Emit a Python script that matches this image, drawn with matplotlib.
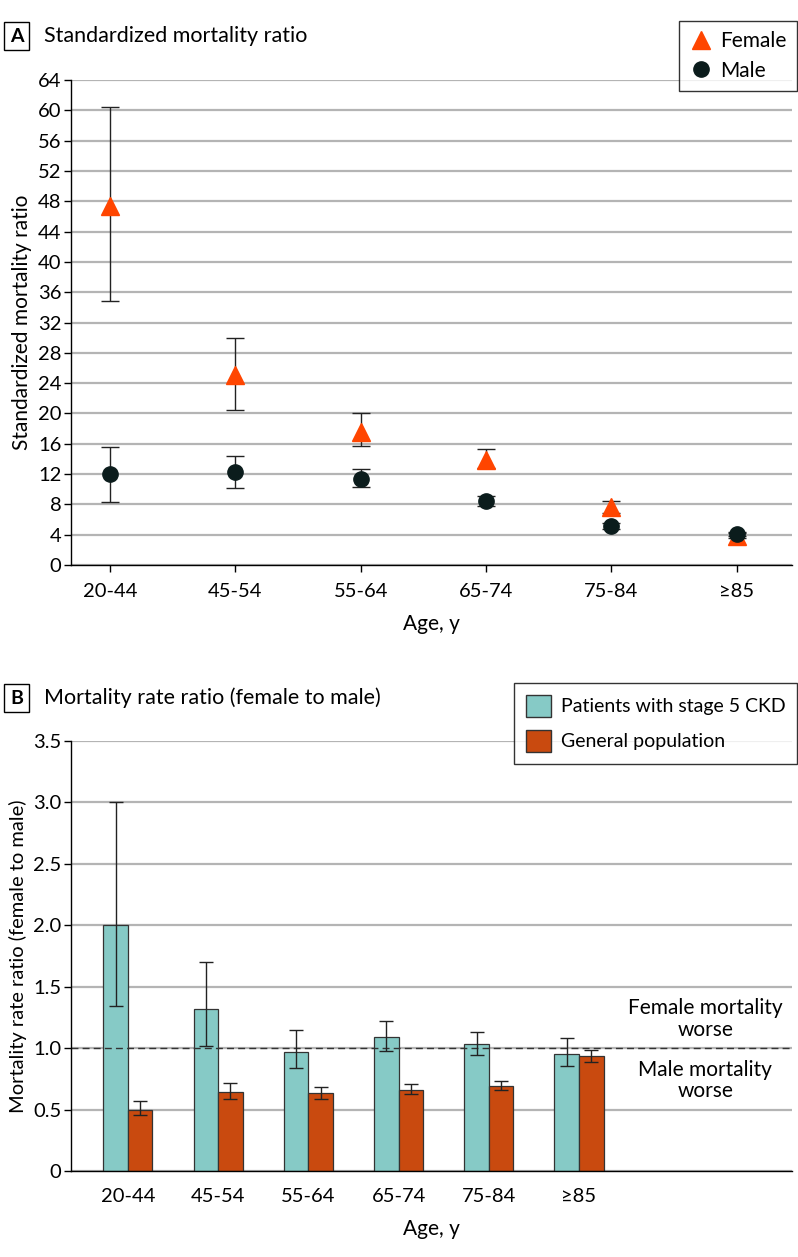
import matplotlib
matplotlib.use("Agg")
import matplotlib.pyplot as plt
from matplotlib.patches import Patch
from matplotlib.lines import Line2D
import numpy as np

plt.rcParams['font.family'] = ['Lato', 'DejaVu Sans']

ages = ["20-44", "45-54", "55-64", "65-74", "75-84", "≥85"]

# Panel A: standardized mortality ratio
female_smr = [47.4, 25.1, 17.6, 13.9, 7.7, 3.8]
female_lo = [34.8, 20.4, 15.7, 12.8, 6.9, 3.5]
female_hi = [60.4, 30.0, 20.0, 15.3, 8.5, 4.2]
male_smr = [12.0, 12.3, 11.4, 8.5, 5.2, 4.1]
male_lo = [8.3, 10.2, 10.3, 7.8, 4.8, 3.8]
male_hi = [15.6, 14.4, 12.7, 9.1, 5.6, 4.4]

# Panel B: mortality rate ratio (female to male)
ckd_rr = [2.00, 1.32, 0.97, 1.09, 1.03, 0.955]
ckd_lo = [1.34, 1.02, 0.84, 0.98, 0.94, 0.855]
ckd_hi = [3.00, 1.70, 1.145, 1.22, 1.13, 1.085]
gen_rr = [0.50, 0.643, 0.632, 0.659, 0.692, 0.933]
gen_lo = [0.453, 0.583, 0.583, 0.627, 0.662, 0.887]
gen_hi = [0.567, 0.716, 0.681, 0.71, 0.73, 0.987]

FEMALE_C = "#ff4500"
MALE_C = "#0b1c1c"
CKD_C = "#86cac6"
GEN_C = "#c94a0f"
GRID_C = "#b4b4b4"
FS = 14.5
LFS = 15
TFS = 15.5

W, H = 798, 1257
fig = plt.figure(figsize=(W / 100, H / 100), dpi=100)

def style_axes(ax):
    for s in ["top", "right"]:
        ax.spines[s].set_visible(False)
    for s in ["left", "bottom"]:
        ax.spines[s].set_linewidth(1.0)
        ax.spines[s].set_color("black")
    ax.tick_params(axis="both", labelsize=FS, length=5, width=1, direction="out", color="black")
    ax.tick_params(axis="y", pad=2)
    ax.yaxis.grid(True, color=GRID_C, linewidth=1.6)
    ax.set_axisbelow(True)

def panel_label(letter, title, ytop):
    y = 1 - ytop / H
    fig.text(16.5 / W, y, letter, fontsize=14, fontweight="bold", ha="center", va="center",
             bbox=dict(boxstyle="square,pad=0.3", fc="white", ec="black", lw=1))
    fig.text(44 / W, y, title, fontsize=TFS, ha="left", va="center")

# ---- Panel A ----
axA = fig.add_axes([71 / W, 1 - 565 / H, (792 - 71) / W, (565 - 80) / H])
x = np.arange(len(ages))
fe = np.array([np.array(female_smr) - np.array(female_lo), np.array(female_hi) - np.array(female_smr)])
me = np.array([np.array(male_smr) - np.array(male_lo), np.array(male_hi) - np.array(male_smr)])
axA.errorbar(x, female_smr, yerr=fe, fmt="none", ecolor="#222222", elinewidth=1, capsize=6.5, capthick=1, zorder=3)
axA.errorbar(x, male_smr, yerr=me, fmt="none", ecolor="#222222", elinewidth=1, capsize=6.5, capthick=1, zorder=3)
axA.plot(x, female_smr, linestyle="none", marker="^", markersize=12.5, color=FEMALE_C, zorder=4)
axA.plot(x, male_smr, linestyle="none", marker="o", markersize=11, color=MALE_C, zorder=5)
axA.set_xlim(-0.31, 5.44)
axA.set_ylim(0, 64)
axA.set_yticks(np.arange(0, 65, 4))
axA.set_xticks(x)
axA.set_xticklabels(ages)
style_axes(axA)
axA.tick_params(axis="x", pad=8)
axA.set_ylabel("Standardized mortality ratio", fontsize=LFS, labelpad=4)
axA.set_xlabel("Age, y", fontsize=LFS, labelpad=10)
panel_label("A", "Standardized mortality ratio", 36)

legA = fig.legend(handles=[Line2D([], [], linestyle="none", marker="^", markersize=12.5, color=FEMALE_C),
                           Line2D([], [], linestyle="none", marker="o", markersize=11, color=MALE_C)],
                  labels=["Female", "Male"], loc="upper right",
                  bbox_to_anchor=(797 / W, 1 - 21 / H), fontsize=LFS, frameon=True,
                  fancybox=False, edgecolor="black", handletextpad=0.3, borderpad=0.5,
                  labelspacing=0.45, handlelength=1.2, borderaxespad=0)
legA.get_frame().set_linewidth(1.0)

# ---- Panel B ----
axB = fig.add_axes([71 / W, 1 - 1171 / H, (792 - 71) / W, (1171 - 740.7) / H])
bw = 0.272
ce = np.array([np.array(ckd_rr) - np.array(ckd_lo), np.array(ckd_hi) - np.array(ckd_rr)])
ge = np.array([np.array(gen_rr) - np.array(gen_lo), np.array(gen_hi) - np.array(gen_rr)])
axB.bar(x - bw / 2, ckd_rr, width=bw, color=CKD_C, edgecolor="#333333", linewidth=0.9, zorder=2)
axB.bar(x + bw / 2, gen_rr, width=bw, color=GEN_C, edgecolor="#333333", linewidth=0.9, zorder=2)
axB.errorbar(x - bw / 2, ckd_rr, yerr=ce, fmt="none", ecolor="#222222", elinewidth=1, capsize=5, capthick=1, zorder=3)
axB.errorbar(x + bw / 2, gen_rr, yerr=ge, fmt="none", ecolor="#222222", elinewidth=1, capsize=5, capthick=1, zorder=3)
axB.axhline(1.0, color="#333333", linestyle=(0, (5, 3)), linewidth=1, zorder=2.5)
axB.set_xlim(-0.63, 7.36)
axB.set_ylim(0, 3.5)
axB.set_yticks([0, 0.5, 1.0, 1.5, 2.0, 2.5, 3.0, 3.5])
axB.set_yticklabels(["0", "0.5", "1.0", "1.5", "2.0", "2.5", "3.0", "3.5"])
axB.set_xticks(x)
axB.set_xticklabels(ages)
style_axes(axB)
axB.tick_params(axis="x", length=0, pad=12)
axB.set_ylabel("Mortality rate ratio (female to male)", fontsize=14.5, labelpad=4)
axB.set_xlabel("Age, y", fontsize=LFS, labelpad=10)
axB.text(6.4, 1.235, "Female mortality\nworse", ha="center", va="center", fontsize=LFS, linespacing=1.1)
axB.text(6.4, 0.735, "Male mortality\nworse", ha="center", va="center", fontsize=LFS, linespacing=1.1)
panel_label("B", "Mortality rate ratio (female to male)", 698)

legB = fig.legend(handles=[Patch(facecolor=CKD_C, edgecolor="#333333"), Patch(facecolor=GEN_C, edgecolor="#333333")],
                  labels=["Patients with stage 5 CKD", "General population"], loc="upper right",
                  bbox_to_anchor=(797 / W, 1 - 683 / H), fontsize=14, frameon=True,
                  fancybox=False, edgecolor="black", handletextpad=0.5, borderpad=0.6,
                  labelspacing=0.65, handlelength=1.3, handleheight=1.4, borderaxespad=0)
legB.get_frame().set_linewidth(1.0)

fig.savefig("out.png", dpi=100, facecolor="white")
